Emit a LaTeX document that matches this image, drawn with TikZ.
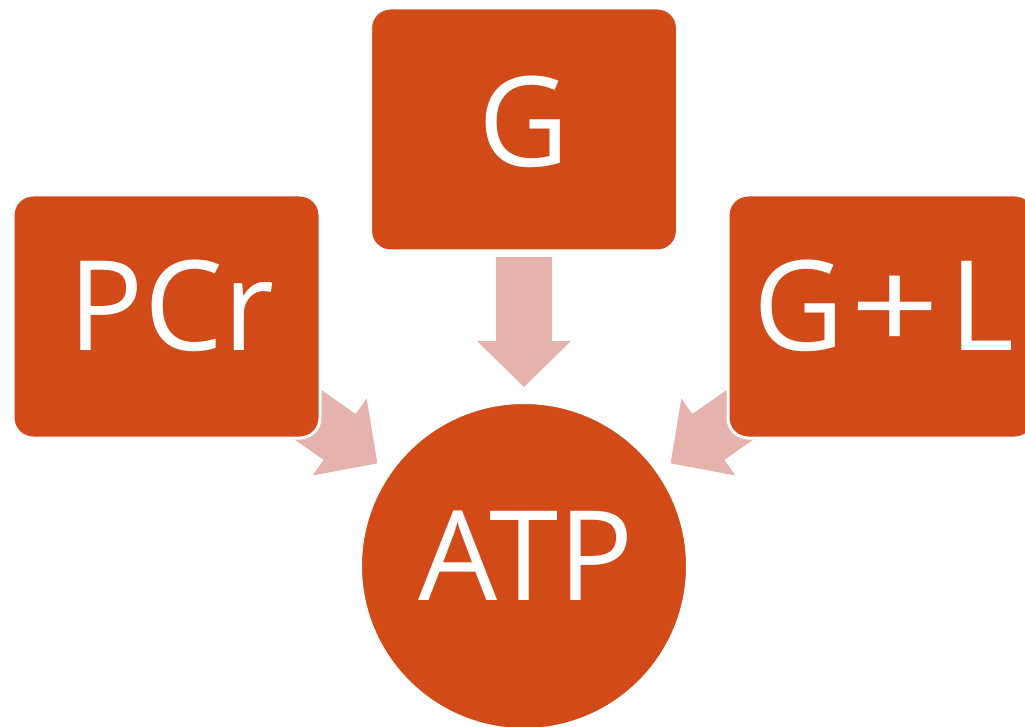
\documentclass[tikz,border=0pt]{standalone}
\usepackage{fontspec}
\setmainfont{Open Sans}
\definecolor{rust}{RGB}{210,74,24}
\definecolor{blush}{RGB}{230,178,173}
\newcommand{\wideplus}{\scalebox{1.25}[1]{+}}
\begin{document}
\begin{tikzpicture}[x=1pt,y=-1pt,
  srcbox/.style={draw=white,line width=3pt,fill=rust,rounded corners=20pt},
  hub/.style={draw=white,line width=3pt,fill=rust},
  lbl/.style={text=white,font=\fontsize{125}{125}\selectfont,anchor=base,inner sep=0pt},
  flow/.style={fill=blush,draw=none}]
\useasboundingbox (0,0) rectangle (1025,727);
\begin{scope}
\clip (0,0) rectangle (1025,727);

% centres of the three sources and the hub
\coordinate (pcrC) at (166.5,316.5);
\coordinate (gC)   at (524,129.5);
\coordinate (glC)  at (881.5,316.5);
\coordinate (atpC) at (524,566);

% block arrows: shaft half-width 28, head half-width 47, head length 46, total 130,
% tip 179 from the hub centre, each pointing at the hub
\foreach \src/\ang in {gC/-90, pcrC/-35.0, glC/-145.0}{
  \begin{scope}[shift={(atpC)},rotate=\ang+180]
    \fill[flow] (179+130,-28) -- (179+46,-28) -- (179+46,-47) -- (179,0)
       -- (179+46,47) -- (179+46,28) -- (179+130,28) -- cycle;
  \end{scope}
}

% source boxes
\node[srcbox,minimum width=307pt,minimum height=243pt,inner sep=0pt] (pcr) at (pcrC) {};
\node[srcbox,minimum width=307pt,minimum height=243pt,inner sep=0pt] (g)   at (gC) {};
\node[srcbox,minimum width=307pt,minimum height=243pt,inner sep=0pt] (gl)  at (glC) {};

% hub
\node[hub,circle,minimum size=327pt,inner sep=0pt] (atp) at (atpC) {};

% labels
\node[lbl] (pcrT) at (171.5,350) {PCr};
\node[lbl] (gT)   at (524,167) {G};
\node[lbl] (glT)  at (884,350) {G\kern6pt\wideplus\kern10pt L};
\node[lbl] (atpT) at (526,600) {ATP};
\end{scope}
\end{tikzpicture}
\end{document}
